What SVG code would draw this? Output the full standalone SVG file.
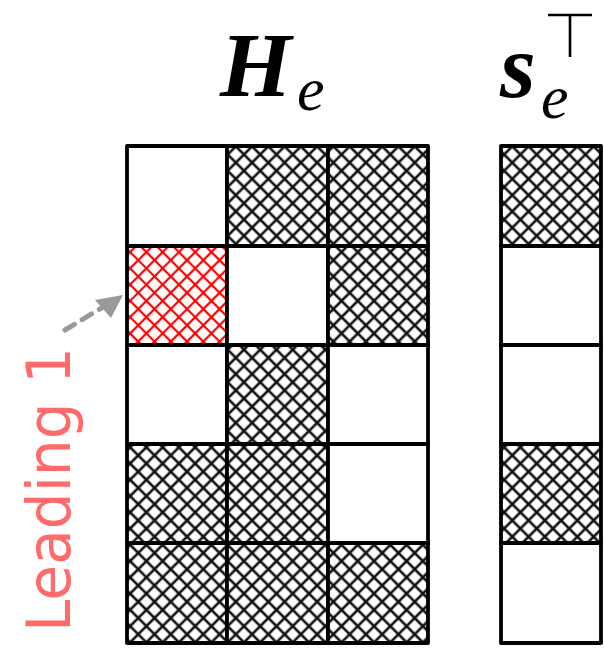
<svg xmlns="http://www.w3.org/2000/svg" width="604" height="649" viewBox="0 0 604 649">
<style>
.cell{stroke:#000;stroke-width:3.8;stroke-linejoin:round}
.w{fill:#fff}
.h{fill:url(#hatch)}
.r{fill:url(#rhatch)}
.math{font-family:"Liberation Serif","DejaVu Serif",serif;font-style:italic;font-weight:bold;fill:#000}
.sub{font-family:"Liberation Serif","DejaVu Serif",serif;font-style:italic;font-weight:normal;fill:#000}
.lbl{font-family:"DejaVu Sans","Liberation Sans",sans-serif;fill:#ff6b6b}
</style>
<defs>
<pattern id="hatch" width="11.5" height="11.5" patternUnits="userSpaceOnUse" patternTransform="rotate(45)">
<rect width="11.5" height="11.5" fill="#fff"/>
<line x1="0" y1="5.75" x2="11.5" y2="5.75" stroke="#111" stroke-width="2.6"/>
<line x1="5.75" y1="0" x2="5.75" y2="11.5" stroke="#111" stroke-width="2.6"/>
</pattern>
<pattern id="rhatch" width="11.5" height="11.5" patternUnits="userSpaceOnUse" patternTransform="rotate(45)">
<rect width="11.5" height="11.5" fill="#fff"/>
<line x1="0" y1="5.75" x2="11.5" y2="5.75" stroke="#f00" stroke-width="2.2"/>
<line x1="5.75" y1="0" x2="5.75" y2="11.5" stroke="#f00" stroke-width="2.2"/>
</pattern>
</defs>
<g id="title-H">
<text class="math" x="220" y="96" font-size="92">H</text>
<text class="sub" x="297" y="110" font-size="62">e</text>
</g>
<g id="title-s">
<text class="math" x="500" y="97" font-size="92">s</text>
<text class="sub" x="541" y="118" font-size="62">e</text>
<line x1="548" y1="15" x2="592" y2="15" stroke="#000" stroke-width="2.6"/>
<line x1="570" y1="15" x2="570" y2="57" stroke="#000" stroke-width="2.6"/>
</g>
<g id="H-matrix">
<g id="H00"><rect class="cell w" x="127" y="146" width="100" height="100"/></g>
<g id="H01"><rect class="cell h" x="227" y="146" width="101" height="100"/></g>
<g id="H02"><rect class="cell h" x="328" y="146" width="100" height="100"/></g>
<g id="H10"><rect class="cell r" x="127" y="246" width="100" height="99"/></g>
<g id="H11"><rect class="cell w" x="227" y="246" width="101" height="99"/></g>
<g id="H12"><rect class="cell h" x="328" y="246" width="100" height="99"/></g>
<g id="H20"><rect class="cell w" x="127" y="345" width="100" height="99"/></g>
<g id="H21"><rect class="cell h" x="227" y="345" width="101" height="99"/></g>
<g id="H22"><rect class="cell w" x="328" y="345" width="100" height="99"/></g>
<g id="H30"><rect class="cell h" x="127" y="444" width="100" height="99"/></g>
<g id="H31"><rect class="cell h" x="227" y="444" width="101" height="99"/></g>
<g id="H32"><rect class="cell w" x="328" y="444" width="100" height="99"/></g>
<g id="H40"><rect class="cell h" x="127" y="543" width="100" height="100"/></g>
<g id="H41"><rect class="cell h" x="227" y="543" width="101" height="100"/></g>
<g id="H42"><rect class="cell h" x="328" y="543" width="100" height="100"/></g>
</g>
<g id="s-vector">
<g id="s0"><rect class="cell h" x="501" y="146" width="100" height="100"/></g>
<g id="s1"><rect class="cell w" x="501" y="246" width="100" height="99"/></g>
<g id="s2"><rect class="cell w" x="501" y="345" width="100" height="99"/></g>
<g id="s3"><rect class="cell h" x="501" y="444" width="100" height="99"/></g>
<g id="s4"><rect class="cell w" x="501" y="543" width="100" height="100"/></g>
</g>
<g id="label-leading">
<text class="lbl" font-size="60" transform="translate(70,632) rotate(-90)" textLength="285" lengthAdjust="spacingAndGlyphs">Leading 1</text>
</g>
<g id="connectors">
<line x1="65" y1="330" x2="108" y2="304" stroke="#999" stroke-width="5" stroke-dasharray="11 9" stroke-linecap="round"/>
<path d="M123,295 L95,300 L111,318 z" fill="#999"/>
</g>
</svg>
